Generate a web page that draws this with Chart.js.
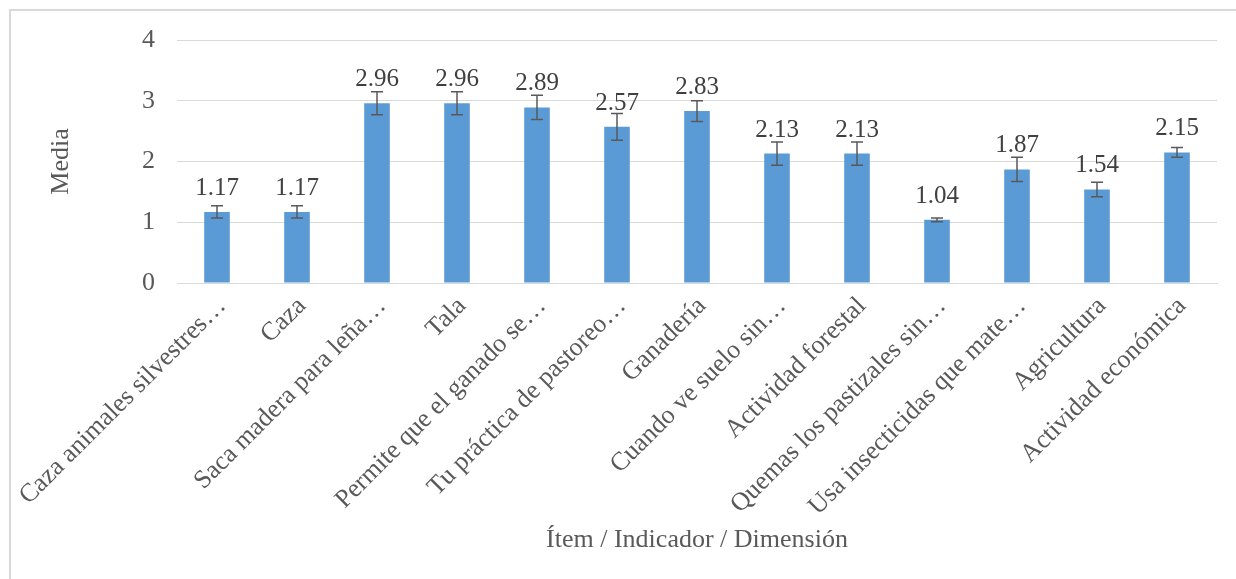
<!DOCTYPE html>
<html>
<head>
<meta charset="utf-8">
<title>Media por ítem</title>
<script src="https://cdn.jsdelivr.net/npm/chart.js@4/dist/chart.umd.min.js"></script>
<style>
    body { margin: 0; background: #fff; overflow: hidden; }
    .frame {
        position: absolute; left: 9px; top: 9px; width: 1400px; height: 800px;
        border-left: 2px solid #d9d9d9; border-top: 2px solid #d9d9d9;
    }
    #chart { position: absolute; left: 0; top: 0; }
</style>
</head>
<body>
<div class="frame"></div>
<canvas id="chart" width="1236" height="579"></canvas>
<script>
// Data
const categories = [
    'Caza animales silvestres…', 'Caza', 'Saca madera para leña…', 'Tala',
    'Permite que el ganado se…', 'Tu práctica de pastoreo…', 'Ganadería',
    'Cuando ve suelo sin…', 'Actividad forestal', 'Quemas los pastizales sin…',
    'Usa insecticidas que mate…', 'Agricultura', 'Actividad económica'
];
const means = [1.17, 1.17, 2.96, 2.96, 2.89, 2.57, 2.83, 2.13, 2.13, 1.04, 1.87, 1.54, 2.15];
const errors = [0.10, 0.10, 0.19, 0.19, 0.20, 0.22, 0.17, 0.19, 0.19, 0.03, 0.20, 0.12, 0.08];
const yTicks = [0, 1, 2, 3, 4];

const textColor = '#595959';
const gridColor = '#d9d9d9';
const barColor = '#5b9bd5';
const serif = "'Liberation Serif', 'Times New Roman', serif";

// error bars + value labels, drawn on top of the bars
const errorBarsAndLabels = {
    id: 'errorBarsAndLabels',
    afterDatasetsDraw(chart) {
        const ctx = chart.ctx;
        const yScale = chart.scales.y;
        const meta = chart.getDatasetMeta(0);
        ctx.save();
        meta.data.forEach((bar, i) => {
            const yHi = yScale.getPixelForValue(means[i] + errors[i]);
            const yLo = yScale.getPixelForValue(means[i] - errors[i]);
            ctx.strokeStyle = '#595959';
            ctx.lineWidth = 1.5;
            ctx.beginPath();
            ctx.moveTo(bar.x, yHi); ctx.lineTo(bar.x, yLo);
            ctx.moveTo(bar.x - 6, yHi); ctx.lineTo(bar.x + 6, yHi);
            ctx.moveTo(bar.x - 6, yLo); ctx.lineTo(bar.x + 6, yLo);
            ctx.stroke();

            ctx.fillStyle = '#404040';
            ctx.font = '25px ' + serif;
            ctx.textAlign = 'center';
            ctx.textBaseline = 'alphabetic';
            ctx.fillText(means[i].toFixed(2), bar.x, bar.y - 17);
        });
        ctx.restore();
    }
};

new Chart(document.getElementById('chart'), {
    type: 'bar',
    data: {
        labels: categories,
        datasets: [{
            label: 'Media',
            data: means,
            backgroundColor: barColor,
            barPercentage: 0.32,
            categoryPercentage: 1
        }]
    },
    options: {
        responsive: false,
        animation: false,
        layout: { padding: { left: 42, top: 40, right: 19, bottom: 19 } },
        plugins: {
            legend: { display: false },
            tooltip: { enabled: false }
        },
        scales: {
            x: {
                grid: { display: false, drawTicks: false },
                border: { color: gridColor, width: 1 },
                ticks: {
                    color: textColor,
                    font: { family: serif, size: 26 },
                    minRotation: 45, maxRotation: 45,
                    autoSkip: false,
                    padding: 8,
                    labelOffset: 5
                },
                title: {
                    display: true,
                    text: 'Ítem / Indicador / Dimensión',
                    color: textColor,
                    font: { family: serif, size: 26 }
                },
                afterFit: s => { s.height = 277; }
            },
            y: {
                min: 0, max: 4,
                afterBuildTicks: s => { s.ticks = yTicks.map(v => ({ value: v })); },
                grid: { color: gridColor, lineWidth: 1, drawTicks: false },
                border: { display: false },
                ticks: {
                    color: textColor,
                    font: { family: serif, size: 26 },
                    padding: 22
                },
                title: {
                    display: true,
                    text: 'Media',
                    color: textColor,
                    font: { family: serif, size: 26 }
                },
                afterFit: s => { s.width = 135; }
            }
        }
    },
    plugins: [errorBarsAndLabels]
});
</script>
</body>
</html>
